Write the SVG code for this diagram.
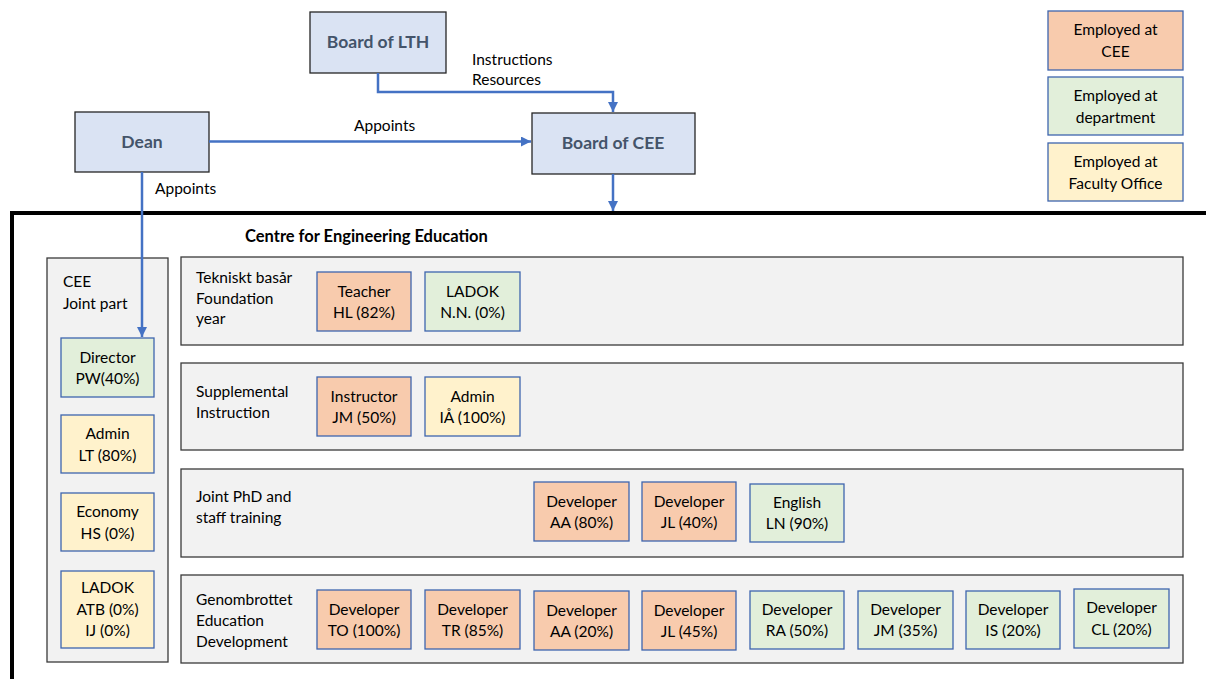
<svg xmlns="http://www.w3.org/2000/svg" width="1206" height="679" viewBox="0 0 1206 679">
<style>
text{font-family:Lato,"Liberation Sans",sans-serif;font-size:15.5px;fill:#000}
.c{text-anchor:middle}
.hd{font-weight:bold;font-size:17.5px;fill:#44546A;text-anchor:middle}
.top{fill:#DAE3F3;stroke:#262626;stroke-width:1.3}
.pan{fill:#F2F2F2;stroke:#3A3A3A;stroke-width:1.3}
.o{fill:#F8CBAD;stroke:#3E65AE;stroke-width:1.3}
.g{fill:#E2EFDA;stroke:#3E65AE;stroke-width:1.3}
.y{fill:#FFF2CC;stroke:#3E65AE;stroke-width:1.3}
.ln{fill:none;stroke:#4472C4;stroke-width:2.5;marker-end:url(#ah)}
</style>
<defs>
<marker id="ah" markerUnits="userSpaceOnUse" markerWidth="10" markerHeight="10" viewBox="0 0 10 10" refX="10" refY="5" orient="auto">
<path d="M0,0 L10,5 L0,10 z" fill="#4472C4"/>
</marker>
</defs>
<rect width="1206" height="679" fill="#fff"/>

<g id="frame">
<path d="M12,679 V213 H1206" fill="none" stroke="#000" stroke-width="4"/>
<text x="245" y="242" style="font-weight:bold;font-size:16.5px">Centre for Engineering Education</text>
</g>

<g id="board-lth"><rect class="top" x="310" y="12" width="136" height="61"/><text class="hd" x="378" y="48">Board of LTH</text></g>
<g id="dean"><rect class="top" x="75" y="112" width="134" height="60"/><text class="hd" x="142" y="148">Dean</text></g>
<g id="board-cee"><rect class="top" x="532" y="113" width="163" height="61"/><text class="hd" x="613" y="149">Board of CEE</text></g>

<g id="legend">
<g id="leg-cee"><rect class="o" x="1048" y="11" width="135" height="59"/><text class="c" x="1115.5" y="35">Employed at</text><text class="c" x="1115.5" y="57">CEE</text></g>
<g id="leg-dep"><rect class="g" x="1048" y="77" width="135" height="58"/><text class="c" x="1115.5" y="100.5">Employed at</text><text class="c" x="1115.5" y="122.5">department</text></g>
<g id="leg-fo"><rect class="y" x="1048" y="143" width="135" height="58"/><text class="c" x="1115.5" y="166.5">Employed at</text><text class="c" x="1115.5" y="188.5">Faculty Office</text></g>
</g>

<g id="joint-part">
<rect class="pan" x="47" y="258" width="121" height="404"/>
<text x="63" y="287">CEE</text>
<text x="63" y="309">Joint part</text>
</g>
<g id="director"><rect class="g" x="61" y="338" width="93" height="59"/><text class="c" x="107.5" y="362.5">Director</text><text class="c" x="107.5" y="384">PW(40%)</text></g>
<g id="admin-lt"><rect class="y" x="61" y="415" width="93" height="58"/><text class="c" x="107.5" y="439">Admin</text><text class="c" x="107.5" y="460.5">LT (80%)</text></g>
<g id="economy"><rect class="y" x="61" y="493" width="93" height="58"/><text class="c" x="107.5" y="517">Economy</text><text class="c" x="107.5" y="538.5">HS (0%)</text></g>
<g id="ladok-j"><rect class="y" x="61" y="571" width="93" height="77"/><text class="c" x="107.5" y="593">LADOK</text><text class="c" x="107.5" y="615">ATB (0%)</text><text class="c" x="107.5" y="636">IJ (0%)</text></g>

<g id="row-foundation">
<rect class="pan" x="181" y="257" width="1002" height="88"/>
<text x="196" y="283">Tekniskt basår</text>
<text x="196" y="304">Foundation</text>
<text x="196" y="324">year</text>
</g>
<g id="teacher"><rect class="o" x="317" y="272" width="94" height="59"/><text class="c" x="364" y="296.5">Teacher</text><text class="c" x="364" y="318">HL (82%)</text></g>
<g id="ladok-nn"><rect class="g" x="425" y="272" width="95" height="59"/><text class="c" x="472.5" y="296.5">LADOK</text><text class="c" x="472.5" y="318">N.N. (0%)</text></g>

<g id="row-si">
<rect class="pan" x="181" y="363" width="1002" height="87"/>
<text x="196" y="397">Supplemental</text>
<text x="196" y="418">Instruction</text>
</g>
<g id="instructor"><rect class="o" x="317" y="377" width="94" height="59"/><text class="c" x="364" y="401.5">Instructor</text><text class="c" x="364" y="423">JM (50%)</text></g>
<g id="admin-ia"><rect class="y" x="425" y="377" width="95" height="59"/><text class="c" x="472.5" y="401.5">Admin</text><text class="c" x="472.5" y="423">IÅ (100%)</text></g>

<g id="row-phd">
<rect class="pan" x="181" y="469" width="1002" height="88"/>
<text x="196" y="502">Joint PhD and</text>
<text x="196" y="523">staff training</text>
</g>
<g id="dev-aa80"><rect class="o" x="534" y="482" width="95" height="59"/><text class="c" x="581.5" y="506.5">Developer</text><text class="c" x="581.5" y="528">AA (80%)</text></g>
<g id="dev-jl40"><rect class="o" x="642" y="482" width="94" height="59"/><text class="c" x="689" y="506.5">Developer</text><text class="c" x="689" y="528">JL (40%)</text></g>
<g id="english"><rect class="g" x="750" y="484" width="94" height="58"/><text class="c" x="797" y="507.5">English</text><text class="c" x="797" y="529">LN (90%)</text></g>

<g id="row-gen">
<rect class="pan" x="181" y="575" width="1002" height="88"/>
<text x="196" y="605">Genombrottet</text>
<text x="196" y="626">Education</text>
<text x="196" y="647">Development</text>
</g>
<g id="dev-to"><rect class="o" x="317" y="590" width="94" height="59"/><text class="c" x="364" y="614.5">Developer</text><text class="c" x="364" y="636">TO (100%)</text></g>
<g id="dev-tr"><rect class="o" x="425" y="590" width="95" height="59"/><text class="c" x="472.5" y="614.5">Developer</text><text class="c" x="472.5" y="636">TR (85%)</text></g>
<g id="dev-aa20"><rect class="o" x="534" y="591" width="95" height="59"/><text class="c" x="581.5" y="615.5">Developer</text><text class="c" x="581.5" y="637">AA (20%)</text></g>
<g id="dev-jl45"><rect class="o" x="642" y="591" width="94" height="59"/><text class="c" x="689" y="615.5">Developer</text><text class="c" x="689" y="637">JL (45%)</text></g>
<g id="dev-ra"><rect class="g" x="750" y="591" width="94" height="58"/><text class="c" x="797" y="614.5">Developer</text><text class="c" x="797" y="636">RA (50%)</text></g>
<g id="dev-jm"><rect class="g" x="858" y="591" width="95" height="58"/><text class="c" x="905.5" y="614.5">Developer</text><text class="c" x="905.5" y="636">JM (35%)</text></g>
<g id="dev-is"><rect class="g" x="966" y="591" width="94" height="58"/><text class="c" x="1013" y="614.5">Developer</text><text class="c" x="1013" y="636">IS (20%)</text></g>
<g id="dev-cl"><rect class="g" x="1074" y="589" width="95" height="59"/><text class="c" x="1121.5" y="613">Developer</text><text class="c" x="1121.5" y="635">CL (20%)</text></g>

<g id="connectors">
<path class="ln" d="M378,73 V92 H613 V112"/>
<path class="ln" d="M209,141.5 H531"/>
<path class="ln" d="M613,174 V211"/>
<path class="ln" d="M142,172 V337"/>
<text x="472" y="65">Instructions</text>
<text x="472" y="85">Resources</text>
<text x="354" y="131">Appoints</text>
<text x="155" y="194">Appoints</text>
</g>
</svg>
